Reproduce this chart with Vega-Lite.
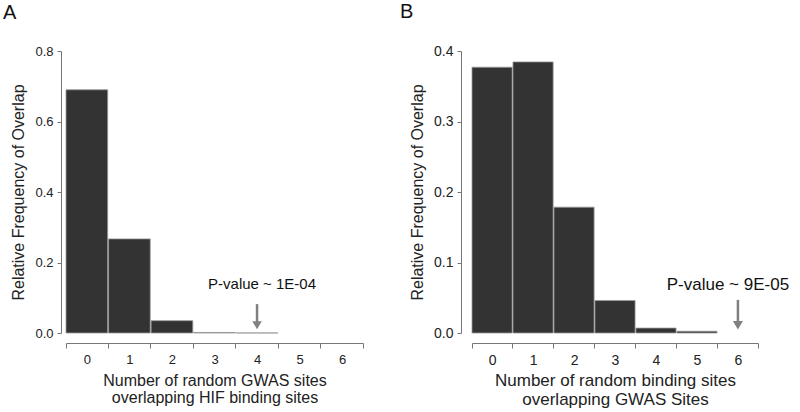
{
  "$schema": "https://vega.github.io/schema/vega-lite/v6.json",
  "background": "white",
  "padding": {"left": 3, "top": 2, "right": 5, "bottom": 5},
  "bounds": "flush",
  "spacing": 109,
  "datasets": {
    "histA": [
      {"k": "0", "freq": 0.690},
      {"k": "1", "freq": 0.267},
      {"k": "2", "freq": 0.035},
      {"k": "3", "freq": 0.0015},
      {"k": "4", "freq": 0.0003}
    ],
    "histB": [
      {"k": "0", "freq": 0.377},
      {"k": "1", "freq": 0.3845},
      {"k": "2", "freq": 0.1785},
      {"k": "3", "freq": 0.046},
      {"k": "4", "freq": 0.007},
      {"k": "5", "freq": 0.0025}
    ],
    "noteA": [{"k": "4", "top": 0.082, "bottom": 0.03, "head": 0.022, "label": 0.139, "text": "P-value ~ 1E-04"}],
    "noteB": [{"k": "6", "top": 0.047, "bottom": 0.015, "head": 0.011, "label": 0.068, "text": "P-value ~ 9E-05"}]
  },
  "config": {
    "font": "Liberation Sans",
    "view": {"stroke": null},
    "axis": {
      "grid": false,
      "domainColor": "#777777",
      "tickColor": "#777777",
      "labelColor": "#222222",
      "titleColor": "#222222",
      "labelFontSize": 13,
      "titleFontSize": 16,
      "titleFontWeight": "normal",
      "labelFont": "Liberation Sans",
      "titleFont": "Liberation Sans"
    },
    "title": {"font": "Liberation Sans", "fontWeight": "normal", "color": "#111111"}
  },
  "hconcat": [
    {
      "width": 297,
      "height": 282,
      "title": {"text": "A", "fontSize": 20, "anchor": "start", "frame": "group", "dx": -63, "offset": 22},
      "layer": [
        {
          "data": {"name": "histA"},
          "mark": {"type": "bar", "fill": "#333333", "stroke": "#999999", "strokeWidth": 0.8},
          "encoding": {
            "x": {
              "field": "k", "type": "ordinal",
              "scale": {"domain": ["0","1","2","3","4","5","6"], "paddingInner": 0.02, "paddingOuter": 0},
              "axis": {"offset": 10, "tickBand": "extent", "tickSize": 5, "labelAngle": 0, "labelPadding": 5,
                       "title": ["Number of random GWAS sites", "overlapping HIF binding sites"],
                       "titlePadding": 6, "titleLineHeight": 17}
            },
            "y": {
              "field": "freq", "type": "quantitative",
              "scale": {"domain": [0, 0.8], "nice": false},
              "axis": {"values": [0, 0.2, 0.4, 0.6, 0.8], "format": ".1f", "offset": 5, "tickSize": 4, "labelPadding": 4,
                       "title": "Relative Frequency of Overlap", "titlePadding": 8}
            }
          }
        },
        {
          "data": {"name": "noteA"},
          "mark": {"type": "rule", "color": "#808080", "strokeWidth": 2.5},
          "encoding": {"x": {"field": "k", "type": "ordinal"}, "y": {"field": "top", "type": "quantitative"}, "y2": {"field": "bottom"}}
        },
        {
          "data": {"name": "noteA"},
          "mark": {"type": "point", "shape": "triangle-down", "filled": true, "color": "#808080", "opacity": 1, "size": 90},
          "encoding": {"x": {"field": "k", "type": "ordinal"}, "y": {"field": "head", "type": "quantitative"}}
        },
        {
          "data": {"name": "noteA"},
          "mark": {"type": "text", "fontSize": 15, "color": "#111111", "dx": 5, "baseline": "middle", "align": "center"},
          "encoding": {"x": {"field": "k", "type": "ordinal"}, "y": {"field": "label", "type": "quantitative"}, "text": {"field": "text"}}
        }
      ]
    },
    {
      "width": 286,
      "height": 282,
      "title": {"text": "B", "fontSize": 20, "anchor": "start", "frame": "group", "dx": -72, "offset": 22},
      "layer": [
        {
          "data": {"name": "histB"},
          "mark": {"type": "bar", "fill": "#333333", "stroke": "#999999", "strokeWidth": 0.8},
          "encoding": {
            "x": {
              "field": "k", "type": "ordinal",
              "scale": {"domain": ["0","1","2","3","4","5","6"], "paddingInner": 0.02, "paddingOuter": 0},
              "axis": {"offset": 10, "tickBand": "extent", "tickSize": 5, "labelAngle": 0, "labelPadding": 5, "labelFontSize": 14,
                       "title": ["Number of random binding sites", "overlapping GWAS Sites"], "titleFontSize": 17,
                       "titlePadding": 5, "titleLineHeight": 19}
            },
            "y": {
              "field": "freq", "type": "quantitative",
              "scale": {"domain": [0, 0.4], "nice": false},
              "axis": {"values": [0, 0.1, 0.2, 0.3, 0.4], "format": ".1f", "offset": 11, "tickSize": 4, "labelPadding": 4, "labelFontSize": 14,
                       "title": "Relative Frequency of Overlap", "titlePadding": 8}
            }
          }
        },
        {
          "data": {"name": "noteB"},
          "mark": {"type": "rule", "color": "#808080", "strokeWidth": 2.5},
          "encoding": {"x": {"field": "k", "type": "ordinal"}, "y": {"field": "top", "type": "quantitative"}, "y2": {"field": "bottom"}}
        },
        {
          "data": {"name": "noteB"},
          "mark": {"type": "point", "shape": "triangle-down", "filled": true, "color": "#808080", "opacity": 1, "size": 100},
          "encoding": {"x": {"field": "k", "type": "ordinal"}, "y": {"field": "head", "type": "quantitative"}}
        },
        {
          "data": {"name": "noteB"},
          "mark": {"type": "text", "fontSize": 17, "color": "#111111", "dx": -10, "baseline": "middle", "align": "center"},
          "encoding": {"x": {"field": "k", "type": "ordinal"}, "y": {"field": "label", "type": "quantitative"}, "text": {"field": "text"}}
        }
      ]
    }
  ]
}
